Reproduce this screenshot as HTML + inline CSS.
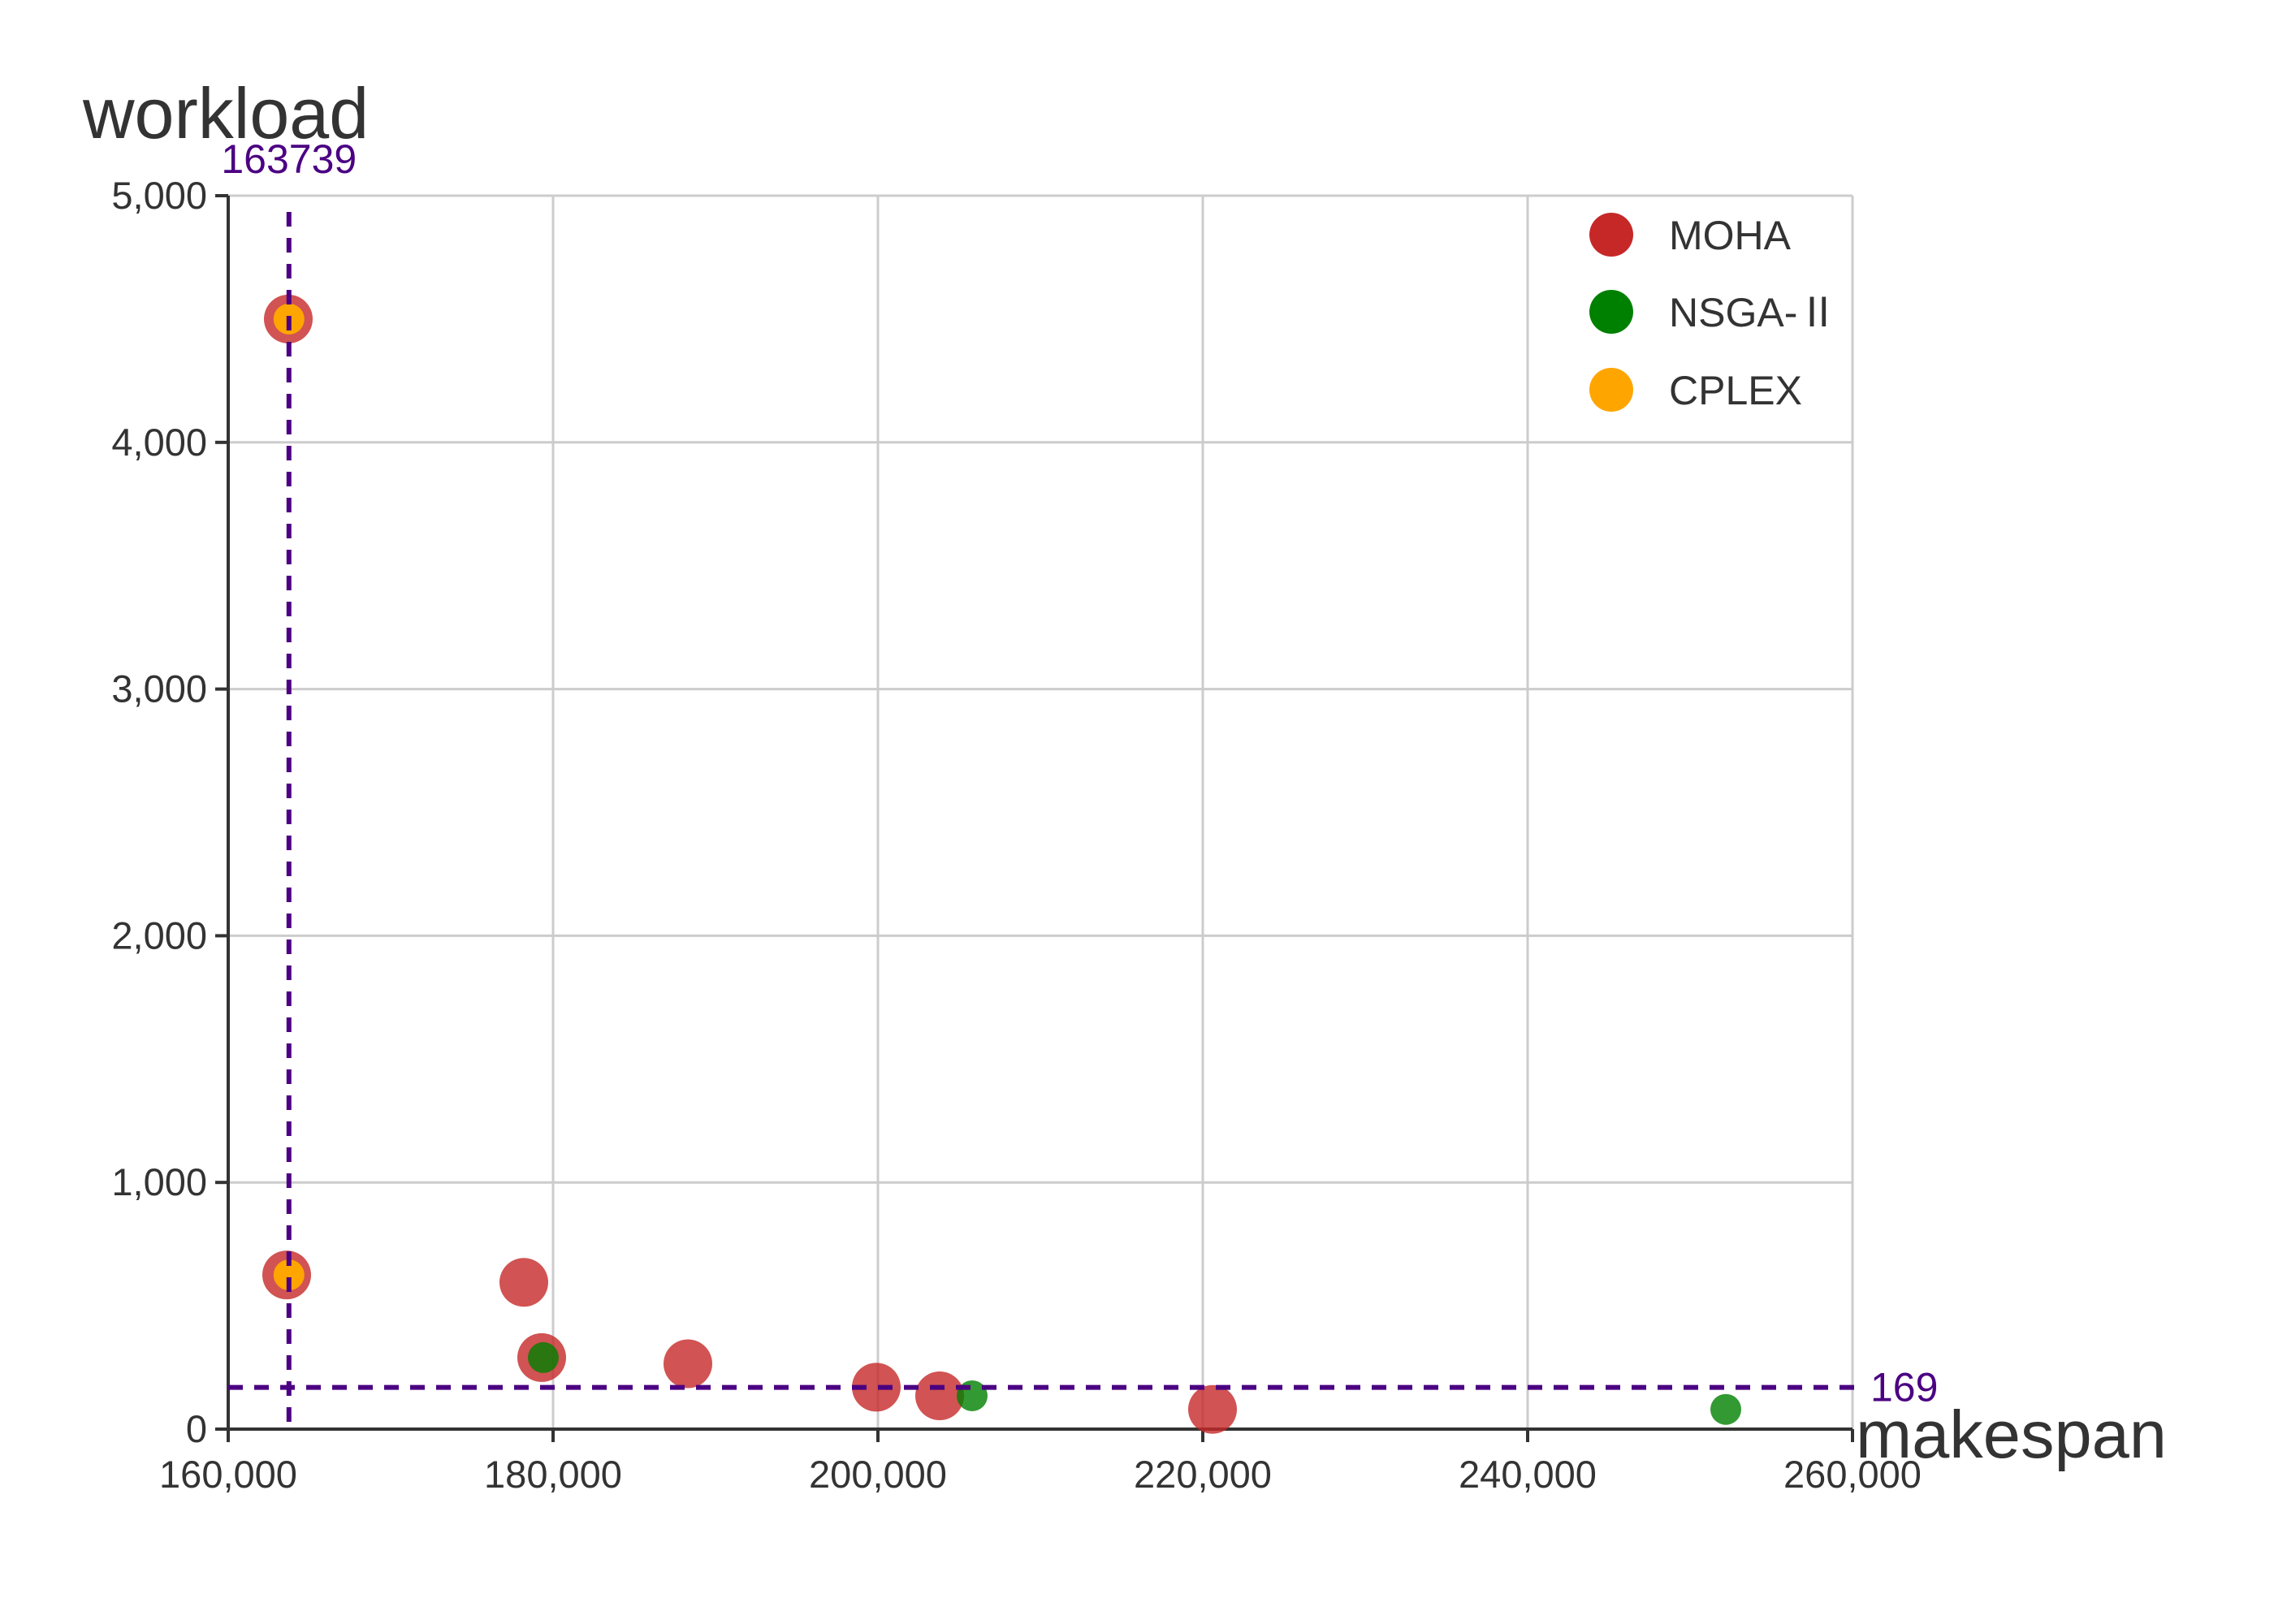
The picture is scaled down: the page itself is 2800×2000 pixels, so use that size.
<!DOCTYPE html>
<html><head><meta charset="utf-8"><style>
html,body{margin:0;padding:0;background:#fff;}
svg{display:block;font-family:"Liberation Sans","Noto Sans CJK SC",sans-serif;}
</style></head><body>
<svg id="chart" width="2800" height="2000" viewBox="0 0 2800 2000">
<g id="grid"></g>
<g id="axes"></g>
<g id="marks"></g>
<g id="refs"></g>
<text x="102" y="170" font-size="88" fill="#333">workload</text>
<text x="2285" y="1795" font-size="83" fill="#333">makespan</text>
<g>
<g><circle cx="1984" cy="289" r="27" fill="#c62828"/><text x="2055" y="307" font-size="50" fill="#333">MOHA</text></g>
<g><circle cx="1984" cy="384" r="27" fill="#008000"/><text x="2055" y="402" font-size="50" fill="#333">NSGA-Ⅱ</text></g>
<g><circle cx="1984" cy="480" r="27" fill="#ffa500"/><text x="2055" y="498" font-size="50" fill="#333">CPLEX</text></g>
</g>
</svg>
<script>
const xTicks=[160000,180000,200000,220000,240000,260000];
const yTicks=[0,1000,2000,3000,4000,5000];
const mohaX=[163700,163600,178200,179300,188300,199900,203800,220600];
const mohaY=[4500,625,595,290,265,170,135,80];
const nsgaX=[179400,205800,252200];
const nsgaY=[290,135,80];
const cplexX=[163739,163739];
const cplexY=[4500,625];
const refX=163739;
const refY=169;
const NS='http://www.w3.org/2000/svg';
const L=281,R=2281,T=241,B=1760;
function sx(v){return L+(v-160000)/(260000-160000)*(R-L);}
function sy(v){return B-(v-0)/(5000-0)*(B-T);}
function mk(tag,attrs,parent,txt){const e=document.createElementNS(NS,tag);for(const k in attrs)e.setAttribute(k,attrs[k]);if(txt!==undefined)e.textContent=txt;document.getElementById(parent).appendChild(e);return e;}
function fmt(v){return v.toLocaleString('en-US');}
xTicks.forEach(t=>{
  const g=mk('line',{x1:sx(t),x2:sx(t),y1:T,y2:B,stroke:'#cccccc','stroke-width':3},'grid');
  
  
  const tk=mk('line',{x1:sx(t),x2:sx(t),y1:B,y2:B+16,stroke:'#333','stroke-width':4},'axes');
  
  
  const lb=mk('text',{x:sx(t),y:B+72,'font-size':47,fill:'#333','text-anchor':'middle'},'axes',fmt(t));
  
  
});
yTicks.forEach(t=>{
  const g=mk('line',{x1:L,x2:R,y1:sy(t),y2:sy(t),stroke:'#cccccc','stroke-width':3},'grid');
  
  
  const tk=mk('line',{x1:L-16,x2:L,y1:sy(t),y2:sy(t),stroke:'#333','stroke-width':4},'axes');
  
  
  const lb=mk('text',{x:L-26,y:sy(t)+16,'font-size':47,fill:'#333','text-anchor':'end'},'axes',fmt(t));
  
  
});
const ax=mk('line',{x1:L,x2:R,y1:B,y2:B,stroke:'#333','stroke-width':4},'axes');


const ay=mk('line',{x1:L,x2:L,y1:T,y2:B,stroke:'#333','stroke-width':4},'axes');


mohaX.forEach((x,i)=>{
  const c=mk('circle',{cx:sx(x),cy:sy(mohaY[i]),r:30,fill:'#c62828','fill-opacity':0.8},'marks');
  
  
});
nsgaX.forEach((x,i)=>{
  const c=mk('circle',{cx:sx(x),cy:sy(nsgaY[i]),r:19,fill:'#008000','fill-opacity':0.8},'marks');
  
  
});
cplexX.forEach((x,i)=>{
  const c=mk('circle',{cx:sx(x),cy:sy(cplexY[i]),r:19,fill:'#ffa500'},'marks');
  
  
});
const vl=mk('line',{x1:sx(refX),x2:sx(refX),y1:T+20,y2:B,stroke:'#4b0082','stroke-width':6,'stroke-dasharray':'18 14'},'refs');


const hl=mk('line',{x1:L,x2:R+8,y1:sy(refY),y2:sy(refY),stroke:'#4b0082','stroke-width':6,'stroke-dasharray':'18 14'},'refs');


const vt=mk('text',{x:sx(refX),y:T-28,'font-size':50,fill:'#4b0082','text-anchor':'middle'},'refs',String(refX));


const ht=mk('text',{x:R+22,y:sy(refY)+17,'font-size':50,fill:'#4b0082'},'refs',String(refY));


</script>
</body></html>
